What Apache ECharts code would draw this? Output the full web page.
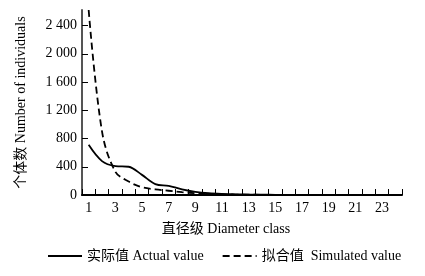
<!DOCTYPE html>
<html>
<head>
<meta charset="utf-8">
<script src="https://cdn.jsdelivr.net/npm/echarts@6/dist/echarts.min.js"></script>
<style>
  html, body { margin: 0; padding: 0; background: #fff; }
  #chart { width: 425px; height: 276px; }
</style>
</head>
<body>
<div id="chart"></div>
<script>
// 直径级 1..24
const classes = ["1","2","3","4","5","6","7","8","9","10","11","12","13","14","15","16","17","18","19","20","21","22","23","24"];
// 实际值
const actual = [710, 480, 410, 400, 285, 155, 130, 80, 45, 25, 15, 10, 6, 4, 3, 2, 2, 1, 1, 1, 0, 0, 0, 0];
// 拟合值
const simulated = [2620, 900, 330, 190, 110, 80, 60, 40, 25, 15, 10, 6, 4, 3, 2, 1, 1, 1, 0, 0, 0, 0, 0, 0];
const yTicks = [0, 400, 800, 1200, 1600, 2000, 2400];

const font = "'Liberation Serif', 'Noto Sans CJK SC', serif";

const chart = echarts.init(document.getElementById("chart"));

chart.setOption({
  animation: false,
  textStyle: { fontFamily: font, color: "#000" },
  grid: { left: 82, right: 23, top: 10, bottom: 81 },
  legend: {
    bottom: 8,
    left: 42,
    itemWidth: 34,
    itemHeight: 10,
    itemGap: 18,
    itemStyle: { opacity: 0 },
    textStyle: { fontFamily: font, fontSize: 14, color: "#000" },
    data: ["实际值 Actual value", "拟合值  Simulated value"]
  },
  xAxis: {
    type: "category",
    data: classes,
    boundaryGap: true,
    name: "直径级 Diameter class",
    nameLocation: "middle",
    nameGap: 27,
    nameTextStyle: { fontFamily: font, fontSize: 14, color: "#000", padding: [0, 32, 0, 0] },
    axisLine: { lineStyle: { color: "#000", width: 2 } },
    axisTick: { show: true, inside: true, length: 6, interval: 0, lineStyle: { color: "#000", width: 1 } },
    axisLabel: { interval: 1, fontSize: 14, color: "#000", fontFamily: font, margin: 6 }
  },
  yAxis: {
    type: "value",
    min: 0,
    max: 2620,
    name: "个体数 Number of individuals",
    nameLocation: "middle",
    nameGap: 54,
    nameTextStyle: { fontFamily: font, fontSize: 14, color: "#000" },
    splitLine: { show: false },
    axisLine: { show: true, lineStyle: { color: "#555", width: 2 } },
    axisTick: { show: true, inside: true, length: 6, customValues: yTicks, lineStyle: { color: "#000" } },
    axisLabel: {
      customValues: yTicks,
      fontSize: 14,
      color: "#000",
      fontFamily: font,
      margin: 5,
      formatter: (v) => String(v).replace(/\B(?=(\d{3})+(?!\d))/g, " ")
    }
  },
  series: [
    {
      name: "实际值 Actual value",
      type: "line",
      data: actual,
      smooth: 0.35,
      symbol: "none",
      lineStyle: { color: "#000", width: 1.8, type: "solid" },
      itemStyle: { color: "#000" }
    },
    {
      name: "拟合值  Simulated value",
      type: "line",
      data: simulated,
      smooth: 0.35,
      symbol: "none",
      lineStyle: { color: "#000", width: 1.8, type: [7, 4] },
      itemStyle: { color: "#000" }
    }
  ]
});
</script>
</body>
</html>
